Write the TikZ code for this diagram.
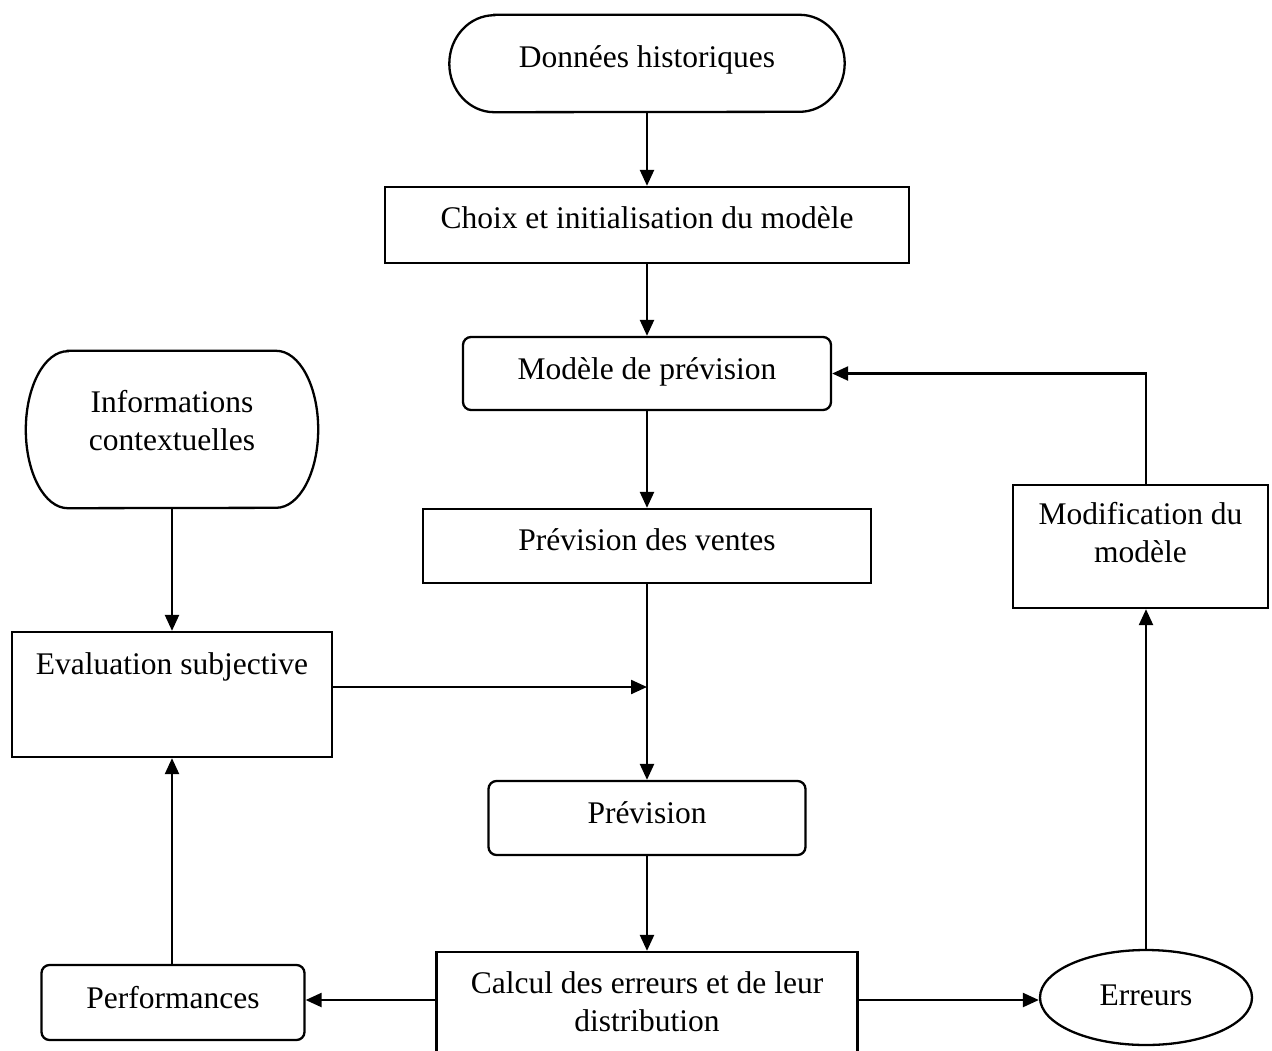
\documentclass[tikz,border=0pt]{standalone}
\usepackage{fontspec}
\setmainfont{Liberation Serif}
\usetikzlibrary{arrows.meta,shapes.geometric,calc}
\begin{document}
\begin{tikzpicture}[x=1pt,y=-1pt,
  ln/.style={line width=2.3pt},
  arr/.style={line width=2.3pt,-{Triangle[length=16pt,width=14pt]}},
  txt/.style={font=\fontsize{31.5}{37.5}\selectfont, align=center, inner sep=0pt, text height=22pt},
  rectbox/.style={txt, draw, line width=2.3pt},
  roundbox/.style={txt, draw, line width=2.3pt, rounded corners=8pt},
  ovalbox/.style={txt}
]
\useasboundingbox (0,0) rectangle (1272,1050);
\fill[white] (0,0) rectangle (1272,1050);

% nodes
\node[ovalbox, minimum width=395, minimum height=97, text depth=15pt] (hist) at (647,63.5) {Données historiques};
\node[rectbox, minimum width=524, minimum height=76, text depth=16pt] (choix) at (647,225) {Choix et initialisation du modèle};
\node[roundbox, minimum width=368, minimum height=73, text depth=11pt] (modele) at (647,373.5) {Modèle de prévision};
\node[rectbox, minimum width=448, minimum height=74, text depth=14pt] (ventes) at (647,546) {Prévision des ventes};
\node[ovalbox, minimum width=292, minimum height=157, text height=48pt, text depth=7pt] (info) at (172,429.5) {Informations\\contextuelles};
\node[rectbox, minimum width=320, text height=32pt, text depth=73pt, inner ysep=10pt] (eval) at (172,694.5) {Evaluation subjective};
\node[rectbox, minimum width=255, minimum height=123, text height=38pt, text depth=7pt] (modif) at (1140.5,546.5) {Modification du\\modèle};
\node[roundbox, minimum width=317, minimum height=74, text depth=12pt] (prev) at (647,818) {Prévision};
\node[rectbox, minimum width=421, minimum height=106, text height=59pt, text depth=7pt] (calc) at (647,1005) {Calcul des erreurs et de leur\\distribution};
\node[roundbox, minimum width=263, minimum height=75, text depth=11pt] (perf) at (173,1002.5) {Performances};
\node[txt, draw, line width=2.3pt, ellipse, minimum width=212, minimum height=95, text depth=7pt] (err) at (1146,997.5) {Erreurs};

% oval outlines
\draw[ln] ([xshift=45]hist.north west) -- ([xshift=-45]hist.north east)
  arc[start angle=-90, end angle=90, x radius=45, y radius=48.5]
  -- ([xshift=45]hist.south west)
  arc[start angle=90, end angle=270, x radius=45, y radius=48.5] -- cycle;
\draw[ln] ([xshift=42]info.north west) -- ([xshift=-42]info.north east)
  arc[start angle=-90, end angle=90, x radius=42, y radius=78.5]
  -- ([xshift=42]info.south west)
  arc[start angle=90, end angle=270, x radius=42, y radius=78.5] -- cycle;

% connectors
\coordinate (j) at (647,687);
\draw[arr] (hist.south) -- (choix.north);
\draw[arr] (choix.south) -- (modele.north);
\draw[arr] (modele.south) -- (ventes.north);
\draw[arr] (ventes.south) -- (prev.north);
\draw[arr] (eval.east |- j) -- (j);
\draw[arr] (prev.south) -- (calc.north);
\draw[arr] (info.south) -- (eval.north);
\draw[arr] (perf.north -| eval.south) -- (eval.south);
\draw[arr] (calc.west |- 0,1000) -- (perf.east |- 0,1000);
\draw[arr] (calc.east |- 0,1000) -- (err.west |- 0,1000);
\draw[arr] (err.north) -- (err.north |- modif.south);
\draw[arr] (err.north |- modif.north) |- (modele.east);
\end{tikzpicture}
\end{document}
